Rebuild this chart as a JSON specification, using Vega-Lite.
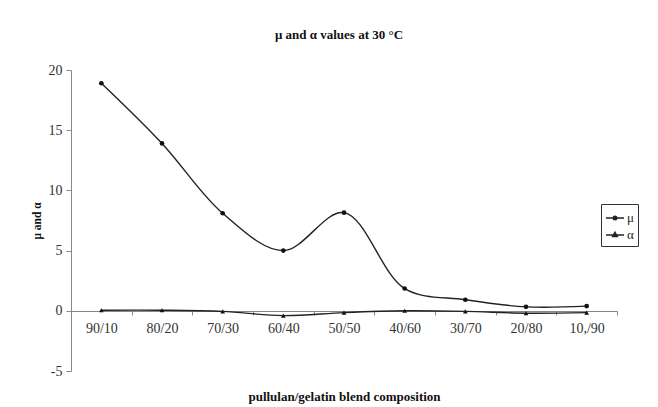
{
  "$schema": "https://vega.github.io/schema/vega-lite/v6.json",
  "width": 546,
  "height": 301,
  "autosize": "none",
  "padding": {"left": 71, "top": 70, "right": 41, "bottom": 36},
  "background": "white",
  "config": {"view": {"stroke": null}},
  "title": {
    "text": "μ and α values at 30 °C",
    "font": "Liberation Serif",
    "fontSize": 13,
    "fontWeight": "bold",
    "color": "#111",
    "offset": 21,
    "dx": -5,
    "anchor": "middle"
  },
  "data": {
    "values": [
      {"comp": "90/10", "series": "μ", "value": 18.9},
      {"comp": "80/20", "series": "μ", "value": 13.9},
      {"comp": "70/30", "series": "μ", "value": 8.1},
      {"comp": "60/40", "series": "μ", "value": 5.0},
      {"comp": "50/50", "series": "μ", "value": 8.15},
      {"comp": "40/60", "series": "μ", "value": 1.85},
      {"comp": "30/70", "series": "μ", "value": 0.92},
      {"comp": "20/80", "series": "μ", "value": 0.33},
      {"comp": "10,/90", "series": "μ", "value": 0.39},
      {"comp": "90/10", "series": "α", "value": 0.05},
      {"comp": "80/20", "series": "α", "value": 0.05},
      {"comp": "70/30", "series": "α", "value": -0.05},
      {"comp": "60/40", "series": "α", "value": -0.4},
      {"comp": "50/50", "series": "α", "value": -0.15},
      {"comp": "40/60", "series": "α", "value": 0.0},
      {"comp": "30/70", "series": "α", "value": -0.05},
      {"comp": "20/80", "series": "α", "value": -0.2},
      {"comp": "10,/90", "series": "α", "value": -0.15}
    ]
  },
  "encoding": {
    "x": {
      "field": "comp",
      "type": "ordinal",
      "sort": null,
      "scale": {"type": "band", "paddingInner": 0, "paddingOuter": 0},
      "axis": {
        "title": "pullulan/gelatin blend composition",
        "offset": -60,
        "labelAngle": 0,
        "tickBand": "extent",
        "domainColor": "#888",
        "tickColor": "#888",
        "tickSize": 4,
        "labelFont": "Liberation Serif",
        "labelFontSize": 14,
        "labelColor": "#333",
        "labelPadding": 6,
        "titleFont": "Liberation Serif",
        "titleFontSize": 13,
        "titleFontWeight": "bold",
        "titleColor": "#111",
        "titlePadding": 55
      }
    },
    "y": {
      "field": "value",
      "type": "quantitative",
      "scale": {"domain": [-5, 20], "nice": false, "zero": false},
      "axis": {
        "values": [-5, 0, 5, 10, 15, 20],
        "labelExpr": "'' + datum.value",
        "grid": false,
        "domainColor": "#888",
        "tickColor": "#888",
        "tickSize": 5,
        "labelFont": "Liberation Serif",
        "labelFontSize": 14,
        "labelColor": "#333",
        "labelPadding": 4,
        "title": "μ and α",
        "titleFont": "Liberation Serif",
        "titleFontSize": 11.5,
        "titleFontWeight": "bold",
        "titleColor": "#111",
        "titlePadding": 6
      }
    }
  },
  "layer": [
    {
      "mark": {"type": "line", "interpolate": "catmull-rom", "color": "#222", "strokeWidth": 1.4},
      "encoding": {"detail": {"field": "series"}}
    },
    {
      "mark": {"type": "point", "filled": true, "color": "#111", "opacity": 1, "size": 22},
      "encoding": {
        "shape": {
          "field": "series",
          "type": "nominal",
          "scale": {"domain": ["μ", "α"], "range": ["circle", "triangle-up"]},
          "legend": null
        }
      }
    },
    {
      "mark": {"type": "point", "filled": false, "color": "#222", "opacity": 0, "size": 324, "strokeWidth": 1.4},
      "encoding": {
        "shape": {
          "field": "series",
          "type": "nominal",
          "scale": {
            "domain": ["μ", "α"],
            "range": [
              "M-1,0H1M0.2,0A0.2,0.2,0,1,1,-0.2,0A0.2,0.2,0,1,1,0.2,0ZM0.11,0A0.11,0.11,0,1,1,-0.11,0A0.11,0.11,0,1,1,0.11,0ZM0.04,0A0.04,0.04,0,1,1,-0.04,0A0.04,0.04,0,1,1,0.04,0Z",
              "M-1,0H1M0,-0.3L0.27,0.18L-0.27,0.18ZM0,-0.16L0.14,0.1L-0.14,0.1ZM0,-0.05L0.05,0.04L-0.05,0.04Z"
            ]
          },
          "legend": {
            "title": null,
            "orient": "none",
            "legendX": 530,
            "legendY": 134,
            "strokeColor": "#333",
            "padding": 4,
            "symbolSize": 324,
            "symbolOpacity": 1,
            "symbolStrokeWidth": 1.4,
            "rowPadding": 0,
            "labelFont": "Liberation Serif",
            "labelFontSize": 13,
            "labelColor": "#222",
            "labelOffset": 2
          }
        }
      }
    }
  ],
  "resolve": {"scale": {"shape": "independent"}, "legend": {"shape": "independent"}}
}
